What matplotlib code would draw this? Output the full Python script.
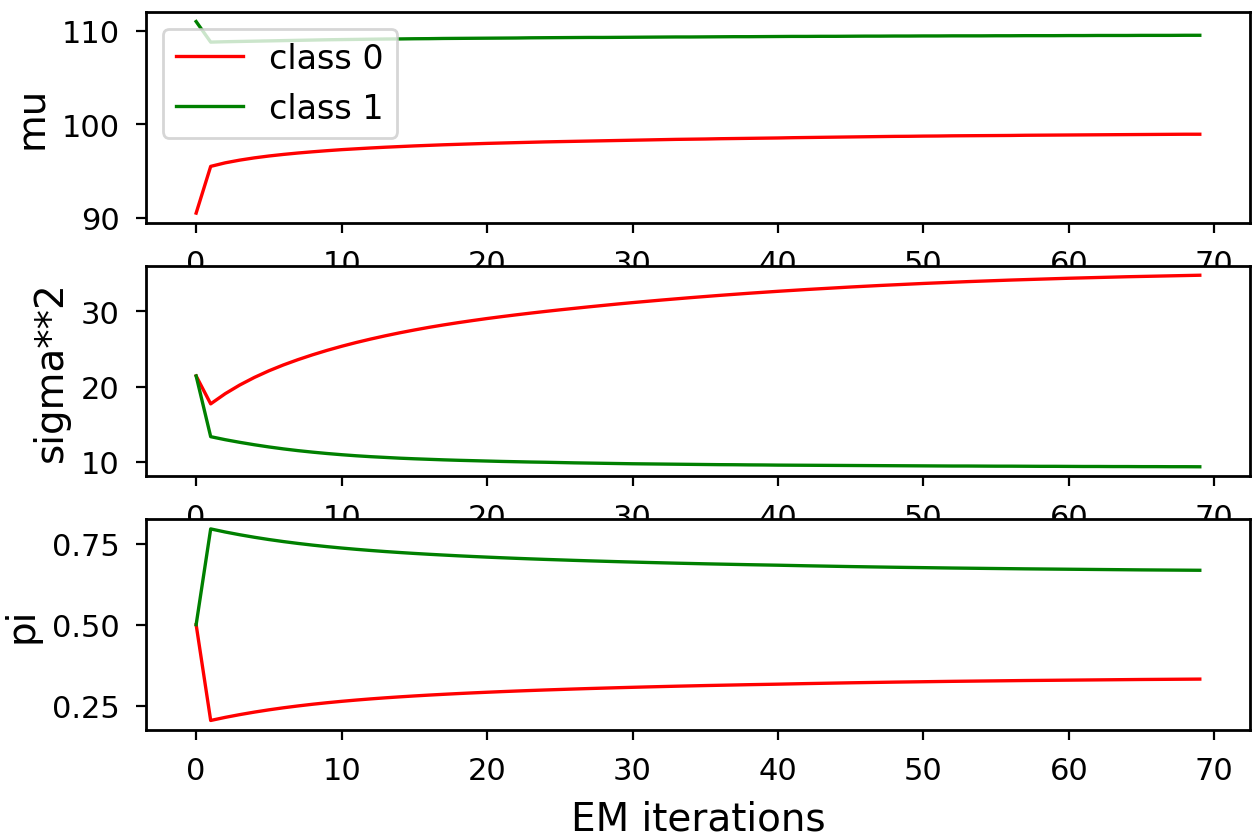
import numpy as np
import matplotlib
matplotlib.use('Agg')
import matplotlib.pyplot as plt

# EM estimates per iteration for the two classes
mu_class0 = [
    90.50, 95.50, 95.88, 96.17, 96.41, 96.61, 96.78, 96.93, 97.06, 97.18,
    97.29, 97.38, 97.47, 97.55, 97.62, 97.69, 97.75, 97.81, 97.86, 97.91,
    97.96, 98.00, 98.04, 98.08, 98.12, 98.15, 98.18, 98.21, 98.24, 98.27,
    98.30, 98.33, 98.36, 98.39, 98.41, 98.43, 98.46, 98.48, 98.50, 98.52,
    98.54, 98.57, 98.59, 98.61, 98.63, 98.65, 98.67, 98.69, 98.71, 98.72,
    98.74, 98.75, 98.77, 98.78, 98.79, 98.80, 98.81, 98.83, 98.84, 98.85,
    98.86, 98.87, 98.88, 98.89, 98.90, 98.91, 98.92, 98.93, 98.94, 98.94,
]
mu_class1 = [
    111.00, 108.80, 108.84, 108.87, 108.90, 108.93, 108.96, 108.99, 109.02, 109.05,
    109.07, 109.09, 109.11, 109.13, 109.14, 109.16, 109.17, 109.19, 109.20, 109.21,
    109.22, 109.23, 109.24, 109.26, 109.27, 109.28, 109.29, 109.30, 109.30, 109.31,
    109.32, 109.33, 109.34, 109.35, 109.35, 109.36, 109.37, 109.38, 109.38, 109.39,
    109.40, 109.41, 109.41, 109.42, 109.42, 109.43, 109.44, 109.44, 109.45, 109.45,
    109.46, 109.46, 109.47, 109.47, 109.47, 109.48, 109.48, 109.49, 109.49, 109.49,
    109.50, 109.50, 109.51, 109.51, 109.51, 109.52, 109.52, 109.52, 109.53, 109.53,
]
sigma2_class0 = [
    21.40, 17.70, 19.05, 20.20, 21.20, 22.08, 22.86, 23.56, 24.20, 24.79,
    25.33, 25.83, 26.29, 26.72, 27.12, 27.49, 27.84, 28.16, 28.46, 28.74,
    29.01, 29.26, 29.50, 29.73, 29.95, 30.16, 30.36, 30.56, 30.75, 30.94,
    31.12, 31.29, 31.46, 31.62, 31.78, 31.93, 32.08, 32.22, 32.36, 32.49,
    32.62, 32.74, 32.86, 32.97, 33.08, 33.19, 33.29, 33.39, 33.48, 33.57,
    33.66, 33.74, 33.82, 33.90, 33.97, 34.04, 34.11, 34.17, 34.23, 34.29,
    34.35, 34.40, 34.45, 34.50, 34.55, 34.59, 34.63, 34.67, 34.71, 34.75,
]
sigma2_class1 = [
    21.40, 13.35, 12.95, 12.60, 12.28, 11.99, 11.73, 11.50, 11.30, 11.12,
    10.96, 10.82, 10.70, 10.60, 10.50, 10.42, 10.35, 10.28, 10.22, 10.17,
    10.12, 10.07, 10.03, 9.99, 9.96, 9.92, 9.88, 9.85, 9.82, 9.79,
    9.76, 9.74, 9.72, 9.70, 9.68, 9.66, 9.64, 9.63, 9.61, 9.60,
    9.58, 9.57, 9.56, 9.55, 9.54, 9.53, 9.52, 9.51, 9.50, 9.49,
    9.48, 9.47, 9.46, 9.46, 9.45, 9.44, 9.44, 9.43, 9.42, 9.42,
    9.41, 9.40, 9.40, 9.39, 9.39, 9.38, 9.38, 9.37, 9.37, 9.36,
]
pi_class0 = [
    0.5000, 0.2050, 0.2145, 0.2230, 0.2307, 0.2377, 0.2440, 0.2497, 0.2549, 0.2596,
    0.2639, 0.2678, 0.2714, 0.2747, 0.2777, 0.2805, 0.2831, 0.2855, 0.2878, 0.2899,
    0.2919, 0.2938, 0.2956, 0.2973, 0.2989, 0.3004, 0.3019, 0.3033, 0.3046, 0.3059,
    0.3071, 0.3083, 0.3094, 0.3105, 0.3115, 0.3125, 0.3134, 0.3143, 0.3152, 0.3160,
    0.3168, 0.3177, 0.3186, 0.3194, 0.3202, 0.3210, 0.3217, 0.3224, 0.3231, 0.3237,
    0.3243, 0.3249, 0.3255, 0.3260, 0.3265, 0.3270, 0.3275, 0.3280, 0.3284, 0.3288,
    0.3292, 0.3296, 0.3300, 0.3304, 0.3308, 0.3312, 0.3315, 0.3318, 0.3321, 0.3324,
]
pi_class1 = [
    0.5000, 0.7950, 0.7855, 0.7770, 0.7693, 0.7623, 0.7560, 0.7503, 0.7451, 0.7404,
    0.7361, 0.7322, 0.7286, 0.7253, 0.7223, 0.7195, 0.7169, 0.7145, 0.7122, 0.7101,
    0.7081, 0.7062, 0.7044, 0.7027, 0.7011, 0.6996, 0.6981, 0.6967, 0.6954, 0.6941,
    0.6929, 0.6917, 0.6906, 0.6895, 0.6885, 0.6875, 0.6866, 0.6857, 0.6848, 0.6840,
    0.6832, 0.6823, 0.6814, 0.6806, 0.6798, 0.6790, 0.6783, 0.6776, 0.6769, 0.6763,
    0.6757, 0.6751, 0.6745, 0.6740, 0.6735, 0.6730, 0.6725, 0.6720, 0.6716, 0.6712,
    0.6708, 0.6704, 0.6700, 0.6696, 0.6692, 0.6688, 0.6685, 0.6682, 0.6679, 0.6676,
]

iterations = np.arange(len(mu_class0))

plt.rcParams['axes.linewidth'] = 1.0
plt.rcParams['xtick.labelsize'] = 11
plt.rcParams['ytick.labelsize'] = 11
plt.rcParams['xtick.major.pad'] = 6
plt.rcParams['ytick.major.pad'] = 6

fig = plt.figure(figsize=(6.275, 4.185), dpi=200)
fig.subplots_adjust(left=0.1163, right=0.996, top=0.9845, bottom=0.1266, hspace=0.204)

panels = [
    ('mu', mu_class0, mu_class1),
    ('sigma**2', sigma2_class0, sigma2_class1),
    ('pi', pi_class0, pi_class1),
]

for k, (name, c0, c1) in enumerate(panels):
    ax = fig.add_subplot(3, 1, k + 1)
    ax.plot(iterations, c0, color='r', lw=1.2, label='class 0')
    ax.plot(iterations, c1, color='g', lw=1.2, label='class 1')
    ax.set_ylabel(name, fontsize=14)
    ax.set_xticks(range(0, 71, 10))
    if k == 0:
        ax.set_yticks([90, 100, 110])
        ax.legend(loc='upper left', fontsize=12)
    elif k == 1:
        ax.set_yticks([10, 20, 30])
    else:
        ax.set_yticks([0.25, 0.50, 0.75])
        ax.set_xlabel('EM iterations', fontsize=14, labelpad=5)

plt.savefig('out.png', dpi=200)
